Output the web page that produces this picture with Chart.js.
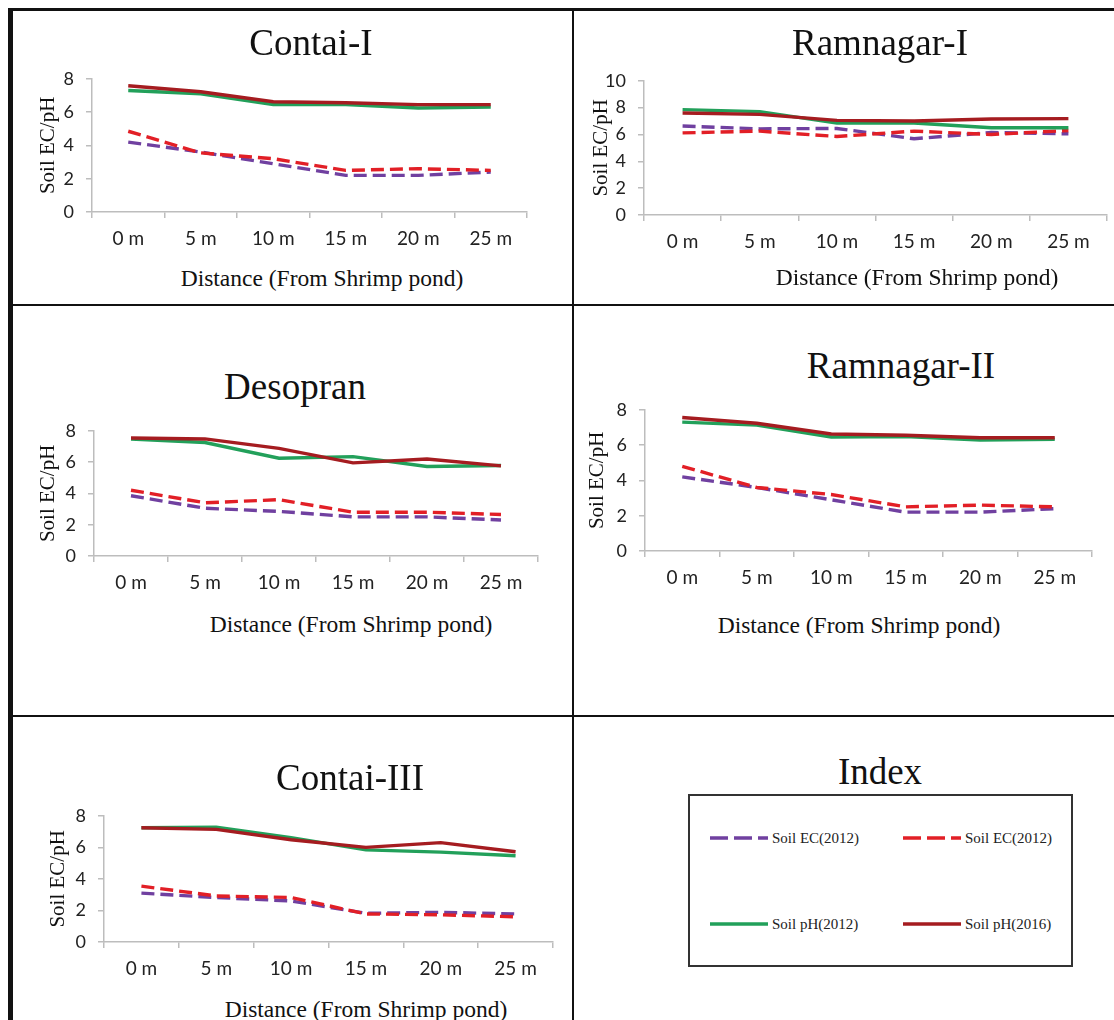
<!DOCTYPE html>
<html>
<head>
<meta charset="utf-8">
<script src="https://cdn.jsdelivr.net/npm/chart.js@4.4.1/dist/chart.umd.min.js"></script>
<style>
  html, body { margin: 0; padding: 0; background: #fff; }
  body { width: 1114px; height: 1020px; position: relative; overflow: hidden; }
  .rule { position: absolute; background: #111; z-index: 5; }
  canvas { position: absolute; }
  .txt { position: absolute; font-family: "Liberation Serif", "Times New Roman", serif; color: #111; white-space: nowrap; line-height: 1; }
  #indexBox { position: absolute; left: 688px; top: 794px; width: 381px; height: 169px; border: 2px solid #333; }
  .legItem { position: absolute; height: 16px; }
  .legItem svg { position: absolute; left: 0; top: 5px; }
  .legItem span { position: absolute; top: 0; font-family: "Liberation Serif", serif; font-size: 15px; line-height: 16px; color: #222; white-space: nowrap; }
</style>
</head>
<body>

<div class="rule" style="left:8px; top:8px; width:1106px; height:3px;"></div>
<div class="rule" style="left:8px; top:8px; width:5px; height:1012px;"></div>
<div class="rule" style="left:572px; top:8px; width:2px; height:1012px;"></div>
<div class="rule" style="left:8px; top:304px; width:1106px; height:2px;"></div>
<div class="rule" style="left:8px; top:715px; width:1106px; height:2px;"></div>
<div id="indexBox"></div>

<script>
// distances from the shrimp pond
const distances = ['0 m', '5 m', '10 m', '15 m', '20 m', '25 m'];
const seriesLabels = ['Soil EC(2012)', 'Soil EC(2012)', 'Soil pH(2012)', 'Soil pH(2016)'];
const seriesColors = ['#7040A0', '#E21F26', '#22A05A', '#A51C20'];
const seriesDashed = [true, true, false, false];
const yTicksStep = 2;

// Contai-I
const contai1EC2012 = [4.2, 3.6, 2.9, 2.2, 2.2, 2.4];
const contai1EC2016 = [4.85, 3.55, 3.2, 2.5, 2.6, 2.5];
const contai1PH2012 = [7.3, 7.1, 6.45, 6.45, 6.25, 6.3];
const contai1PH2016 = [7.58, 7.22, 6.62, 6.56, 6.45, 6.45];

// Ramnagar-I
const ramnagar1EC2012 = [6.63, 6.42, 6.45, 5.68, 6.15, 6.05];
const ramnagar1EC2016 = [6.12, 6.25, 5.85, 6.25, 6.0, 6.3];
const ramnagar1PH2012 = [7.85, 7.7, 6.85, 6.85, 6.5, 6.5];
const ramnagar1PH2016 = [7.6, 7.5, 7.05, 7.0, 7.15, 7.18];

// Desopran
const desopranEC2012 = [3.85, 3.05, 2.85, 2.5, 2.5, 2.3];
const desopranEC2016 = [4.2, 3.4, 3.6, 2.8, 2.8, 2.65];
const desopranPH2012 = [7.48, 7.25, 6.25, 6.35, 5.72, 5.78];
const desopranPH2016 = [7.54, 7.48, 6.88, 5.95, 6.2, 5.76];

// Ramnagar-II
const ramnagar2EC2012 = [4.2, 3.6, 2.9, 2.2, 2.2, 2.4];
const ramnagar2EC2016 = [4.8, 3.6, 3.2, 2.5, 2.6, 2.5];
const ramnagar2PH2012 = [7.3, 7.13, 6.46, 6.48, 6.28, 6.33];
const ramnagar2PH2016 = [7.56, 7.24, 6.63, 6.56, 6.42, 6.42];

// Contai-III
const contai3EC2012 = [3.1, 2.82, 2.6, 1.82, 1.88, 1.78];
const contai3EC2016 = [3.54, 2.92, 2.82, 1.78, 1.72, 1.6];
const contai3PH2012 = [7.24, 7.28, 6.62, 5.84, 5.7, 5.47];
const contai3PH2016 = [7.24, 7.14, 6.48, 6.0, 6.3, 5.72];

const panels = [
    { title: 'Contai-I', ymax: 8, series: [contai1EC2012, contai1EC2016, contai1PH2012, contai1PH2016],
      axL: 92, axR: 527, yTop: 76, yBot: 212, titleX: 311, titleBase: 55, xTitleX: 322, xTitleBase: 287, yTitleX: 48 },
    { title: 'Ramnagar-I', ymax: 10, series: [ramnagar1EC2012, ramnagar1EC2016, ramnagar1PH2012, ramnagar1PH2016],
      axL: 644, axR: 1107, yTop: 78, yBot: 215, titleX: 880, titleBase: 55, xTitleX: 917, xTitleBase: 286, yTitleX: 601 },
    { title: 'Desopran', ymax: 8, series: [desopranEC2012, desopranEC2016, desopranPH2012, desopranPH2016],
      axL: 94, axR: 538, yTop: 428, yBot: 556, titleX: 295, titleBase: 399, xTitleX: 351, xTitleBase: 633, yTitleX: 48 },
    { title: 'Ramnagar-II', ymax: 8, series: [ramnagar2EC2012, ramnagar2EC2016, ramnagar2PH2012, ramnagar2PH2016],
      axL: 645, axR: 1092, yTop: 407, yBot: 551, titleX: 901, titleBase: 378, xTitleX: 859, xTitleBase: 634, yTitleX: 597 },
    { title: 'Contai-III', ymax: 8, series: [contai3EC2012, contai3EC2016, contai3PH2012, contai3PH2016],
      axL: 104, axR: 553, yTop: 813, yBot: 942, titleX: 350, titleBase: 790, xTitleX: 366, xTitleBase: 1018, yTitleX: 58 }
];

const axisGray = '#bdbdbd';
const tickFamily = 'Lato, "Open Sans", sans-serif';

function placeText(text, cx, baseline, size) {
    const d = document.createElement('div');
    d.className = 'txt';
    d.textContent = text;
    d.style.fontSize = size + 'px';
    d.style.left = cx + 'px';
    d.style.top = (baseline - 0.8375 * size) + 'px';
    d.style.transform = 'translateX(-50%)';
    document.body.appendChild(d);
    return d;
}

panels.forEach(p => {
    const left = p.axL - 78;
    const padTop = 20;
    const xH = 50;
    const padRight = 6;
    const top = p.yTop - padTop;
    const w = p.axR - left + padRight;
    const h = (p.yBot - p.yTop) + padTop + xH;

    const canvas = document.createElement('canvas');
    canvas.width = w;
    canvas.height = h;
    canvas.style.left = left + 'px';
    canvas.style.top = top + 'px';
    document.body.appendChild(canvas);

    placeText(p.title, p.titleX, p.titleBase, 37);
    placeText('Distance (From Shrimp pond)', p.xTitleX, p.xTitleBase, 23.5);

    const datasets = p.series.map((vals, i) => ({
        label: seriesLabels[i],
        data: vals,
        borderColor: seriesColors[i],
        backgroundColor: seriesColors[i],
        borderWidth: 3.4,
        borderDash: seriesDashed[i] ? [13, 6] : [],
        pointRadius: 0,
        tension: 0,
        order: 3 - i
    }));

    new Chart(canvas, {
        type: 'line',
        data: { labels: distances, datasets: datasets },
        options: {
            responsive: false,
            animation: false,
            layout: { padding: { top: padTop, right: padRight, bottom: 0, left: 0 } },
            plugins: { legend: { display: false }, tooltip: { enabled: false }, title: { display: false } },
            scales: {
                x: {
                    type: 'category',
                    offset: true,
                    grid: { offset: true, drawOnChartArea: false, drawTicks: true, tickLength: 6, color: axisGray, lineWidth: 1.5 },
                    border: { display: true, color: axisGray, width: 1.5 },
                    ticks: { font: { family: tickFamily, size: 19 }, color: '#222', padding: 9, maxRotation: 0, autoSkip: false },
                    afterFit: s => { s.height = xH; }
                },
                y: {
                    min: 0,
                    max: p.ymax,
                    grid: { drawOnChartArea: false, drawTicks: true, tickLength: 6, color: axisGray, lineWidth: 1.5 },
                    border: { display: true, color: axisGray, width: 1.5 },
                    ticks: { stepSize: yTicksStep, font: { family: tickFamily, size: 18 }, color: '#222', padding: 12 },
                    title: {
                        display: true,
                        text: 'Soil EC/pH',
                        color: '#111',
                        font: { family: '"Liberation Serif", "Times New Roman", serif', size: 21 },
                        padding: { top: p.yTitleX - left - 12.6, bottom: 0 }
                    },
                    afterFit: s => { s.width = p.axL - left; }
                }
            }
        }
    });
});

// Index panel
placeText('Index', 880, 784, 37);
const legendPos = [[710, 838], [903, 838], [710, 924], [903, 924]];
seriesLabels.forEach((lab, i) => {
    const item = document.createElement('div');
    item.className = 'legItem';
    item.style.left = legendPos[i][0] + 'px';
    item.style.top = (legendPos[i][1] - 8) + 'px';
    const dash = seriesDashed[i] ? ' stroke-dasharray="18 6"' : '';
    item.innerHTML = `<svg width="58" height="6"><line x1="0" y1="3" x2="58" y2="3" stroke="${seriesColors[i]}" stroke-width="3.5"${dash}/></svg><span style="left:62px">${lab}</span>`;
    document.body.appendChild(item);
});
</script>
</body>
</html>
